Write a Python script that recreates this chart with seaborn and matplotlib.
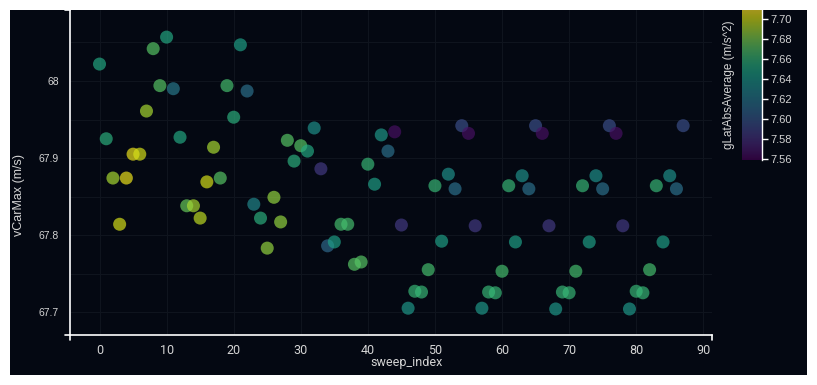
import numpy as np
import pandas as pd
import seaborn as sns
import matplotlib.pyplot as plt
from matplotlib.patches import Rectangle
from matplotlib.colors import Normalize
from matplotlib.cm import ScalarMappable
from matplotlib.ticker import MultipleLocator, FuncFormatter

# values
sweep_index = list(range(88))
vCarMax = [
    68.022, 67.925, 67.874, 67.814, 67.874, 67.905, 67.905, 67.961, 68.042, 67.994,
    68.057, 67.990, 67.927, 67.838, 67.838, 67.822, 67.869, 67.914, 67.874, 67.994,
    67.953, 68.047, 67.987, 67.840, 67.822, 67.783, 67.849, 67.817, 67.923, 67.896,
    67.916, 67.909, 67.939, 67.886, 67.786, 67.791, 67.814, 67.814, 67.762, 67.765,
    67.892, 67.866, 67.930, 67.909, 67.934, 67.813, 67.705, 67.727, 67.726, 67.755,
    67.864, 67.792, 67.879, 67.860, 67.942, 67.932, 67.812, 67.705, 67.726, 67.725,
    67.753, 67.864, 67.791, 67.877, 67.860, 67.942, 67.932, 67.812, 67.704, 67.726,
    67.725, 67.753, 67.864, 67.791, 67.877, 67.860, 67.942, 67.932, 67.812, 67.704,
    67.727, 67.725, 67.755, 67.864, 67.791, 67.877, 67.860, 67.942,
]
gLatAbsAverage = [
    7.650, 7.655, 7.690, 7.700, 7.705, 7.705, 7.700, 7.690, 7.670, 7.670,
    7.650, 7.620, 7.650, 7.675, 7.690, 7.695, 7.700, 7.690, 7.670, 7.665,
    7.655, 7.645, 7.615, 7.630, 7.655, 7.685, 7.685, 7.685, 7.670, 7.655,
    7.670, 7.650, 7.635, 7.585, 7.610, 7.645, 7.665, 7.665, 7.670, 7.670,
    7.660, 7.645, 7.640, 7.615, 7.565, 7.585, 7.640, 7.660, 7.660, 7.665,
    7.660, 7.645, 7.635, 7.615, 7.595, 7.565, 7.585, 7.640, 7.660, 7.660,
    7.665, 7.660, 7.645, 7.635, 7.615, 7.595, 7.565, 7.585, 7.640, 7.660,
    7.660, 7.665, 7.660, 7.645, 7.635, 7.615, 7.595, 7.565, 7.585, 7.640,
    7.660, 7.660, 7.665, 7.660, 7.645, 7.635, 7.615, 7.595,
]

df = pd.DataFrame({'sweep_index': sweep_index, 'vCarMax': vCarMax,
                   'gLatAbsAverage': gLatAbsAverage})

BG = '#040812'
FG = '#d4d4d4'
W, H = 817, 385

sns.set_style('dark')
plt.rcParams['font.family'] = ['Liberation Sans', 'DejaVu Sans']

fig = plt.figure(figsize=(W / 100, H / 100), dpi=100, facecolor='white')
fig.patches.append(Rectangle((10 / W, 10 / H), 797 / W, 365 / H,
                             transform=fig.transFigure, facecolor=BG,
                             edgecolor='none', zorder=-1))

ax = fig.add_axes([70 / W, 50 / H, 642 / W, 325 / H])
ax.set_facecolor(BG)

norm = Normalize(vmin=7.559, vmax=7.709)
sns.scatterplot(data=df, x='sweep_index', y='vCarMax', hue='gLatAbsAverage',
                palette='viridis', hue_norm=norm, s=88, alpha=0.68,
                linewidth=0, legend=False, ax=ax, zorder=3)

ax.set_xlim(-4.4, 91.3)
ax.set_ylim(67.6702, 68.0922)
ax.xaxis.set_major_locator(MultipleLocator(10))
ax.yaxis.set_major_locator(MultipleLocator(0.1))
ax.yaxis.set_minor_locator(MultipleLocator(0.05))
ax.yaxis.set_major_formatter(FuncFormatter(lambda v, p: f'{v:g}'))

ax.grid(True, which='both', color='#0f141e', linewidth=0.8, zorder=0)
ax.tick_params(which='major', colors='white', length=5, width=1,
               labelcolor=FG)
ax.tick_params(which='minor', length=0)
ax.tick_params(axis='y', labelsize=7.5, pad=3)
ax.tick_params(axis='x', labelsize=9, pad=1.5)
for t in ax.get_xticklabels():
    t.set_family(['Roboto', 'DejaVu Sans'])

for side in ['top', 'right']:
    ax.spines[side].set_visible(False)
for side in ['left', 'bottom']:
    ax.spines[side].set_color('white')
    ax.spines[side].set_linewidth(1.2)

# end ticks of the axis lines
tx, ty = 5 / 642, 5 / 325
for xs, ys in [([0, 0], [0, -ty]), ([1, 1], [0, -ty]),
               ([0, -tx], [0, 0]), ([0, -tx], [1, 1])]:
    ax.plot(xs, ys, color='white', lw=1.2, transform=ax.transAxes,
            clip_on=False, zorder=5)

ax.set_xlabel('sweep_index', color=FG, fontsize=9, family=['Roboto', 'DejaVu Sans'])
ax.set_ylabel('vCarMax (m/s)', color=FG, fontsize=9)
ax.xaxis.set_label_coords(0.525, -0.066)
ax.yaxis.set_label_coords(-0.07, 0.43)

# colour bar
cax = fig.add_axes([742 / W, (H - 160) / H, 20 / W, 150 / H])
cax.set_facecolor(BG)
sm = ScalarMappable(norm=norm, cmap='viridis')
cb = fig.colorbar(sm, cax=cax, alpha=0.64)
cb.outline.set_visible(False)
cb.set_ticks([7.56, 7.58, 7.60, 7.62, 7.64, 7.66, 7.68, 7.70])
cb.ax.yaxis.set_major_formatter(FuncFormatter(lambda v, p: f'{v:.2f}'))
cb.ax.tick_params(colors='white', labelcolor=FG, labelsize=8, length=4,
                  width=1, pad=2)
cax.spines['right'].set_visible(True)
cax.spines['right'].set_color('white')
cax.spines['right'].set_linewidth(1)
cb.set_label('gLatAbsAverage (m/s^2)', color=FG, fontsize=8.5)
cax.yaxis.set_label_position('left')
cax.yaxis.labelpad = 5

fig.savefig('out.png', dpi=100, facecolor='white')
